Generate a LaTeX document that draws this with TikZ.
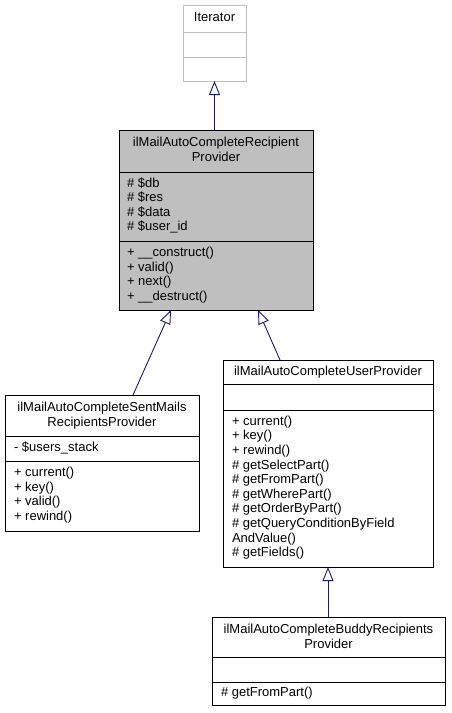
\documentclass[tikz,border=0pt]{standalone}
\usepackage{fontspec}
\setmainfont{Liberation Sans}
\usetikzlibrary{arrows.meta}
\definecolor{edgeblue}{HTML}{191970}
\definecolor{greyfill}{HTML}{BFBFBF}
\begin{document}
\begin{tikzpicture}[x=1pt,y=-1pt,
  box/.style={draw=black,line width=0.9pt,rectangle,inner sep=0pt,outer sep=0pt,anchor=north west,fill=white},
  extbox/.style={box,draw=greyfill},
  txt/.style={inner sep=0pt,outer sep=0pt,font=\fontsize{13}{14.5}\selectfont,text=black},
  divider/.style={line width=0.9pt,draw=black},
  inh/.style={draw=edgeblue,line width=0.9pt,-{Triangle[open,width=11pt,length=14pt]},shorten >=0pt}
]
\useasboundingbox (0,0) rectangle (451,713);

% Iterator
\node[extbox,minimum width=63pt,minimum height=76pt] (iter) at (183,5) {};
\draw[divider,draw=greyfill] (183,32) -- (246,32);
\draw[divider,draw=greyfill] (183,57) -- (246,57);
\node[txt,anchor=base] (iterT) at (214.5,21.5) {Iterator};

% Main class
\node[box,fill=greyfill,minimum width=194pt,minimum height=180pt] (main) at (119,130) {};
\draw[divider] (119,172) -- (313,172);
\draw[divider] (119,241) -- (313,241);
\node[txt,anchor=base] (mainT1) at (216,146.5) {ilMailAutoCompleteRecipient};
\node[txt,anchor=base] (mainT2) at (216,161) {Provider};
\foreach \t [count=\i] in {{\# \$db},{\# \$res},{\# \$data},{\# \$user\_id}}
  \node[txt,anchor=base west] (mainA\i) at (127,187+14.5*\i-14.5) {\t};
\foreach \t [count=\i] in {{+ \_\_construct()},{+ valid()},{+ next()},{+ \_\_destruct()}}
  \node[txt,anchor=base west] (mainM\i) at (127,256.5+14.5*\i-14.5) {\t};

% SentMails
\node[box,minimum width=194pt,minimum height=136pt] (sent) at (5,395) {};
\draw[divider] (5,436) -- (199,436);
\draw[divider] (5,461) -- (199,461);
\node[txt,anchor=base] (sentT1) at (102,411.5) {ilMailAutoCompleteSentMails};
\node[txt,anchor=base] (sentT2) at (102,426) {RecipientsProvider};
\node[txt,anchor=base west] (sentA1) at (14,451) {- \$users\_stack};
\foreach \t [count=\i] in {{+ current()},{+ key()},{+ valid()},{+ rewind()}}
  \node[txt,anchor=base west] (sentM\i) at (14,476.5+14.5*\i-14.5) {\t};

% UserProvider
\node[box,minimum width=210pt,minimum height=207pt] (user) at (223,360) {};
\draw[divider] (223,384) -- (433,384);
\draw[divider] (223,410) -- (433,410);
\node[txt,anchor=base] (userT) at (328,375) {ilMailAutoCompleteUserProvider};
\foreach \t [count=\i] in {{+ current()},{+ key()},{+ rewind()},{\# getSelectPart()},{\# getFromPart()},{\# getWherePart()},{\# getOrderByPart()},{\# getQueryConditionByField},{AndValue()},{\# getFields()}}
  \node[txt,anchor=base west] (userM\i) at (232,425.2+14.6*\i-14.6) {\t};

% Buddy
\node[box,minimum width=233pt,minimum height=88pt] (buddy) at (212,617) {};
\draw[divider] (212,657) -- (445,657);
\draw[divider] (212,682) -- (445,682);
\node[txt,anchor=base] (buddyT1) at (328.5,633.5) {ilMailAutoCompleteBuddyRecipients};
\node[txt,anchor=base] (buddyT2) at (328.5,648) {Provider};
\node[txt,anchor=base west] (buddyM1) at (221,696.5) {\# getFromPart()};

% Inheritance arrows
\draw[inh] (main.north -| iter.south) -- (iter.south);
\draw[inh] ([xshift=128pt]sent.north west) -- ([xshift=52pt]main.south west);
\draw[inh] ([xshift=57pt]user.north west) -- ([xshift=139pt]main.south west);
\draw[inh] (buddy.north -| user.south) -- (user.south);
\end{tikzpicture}
\end{document}
